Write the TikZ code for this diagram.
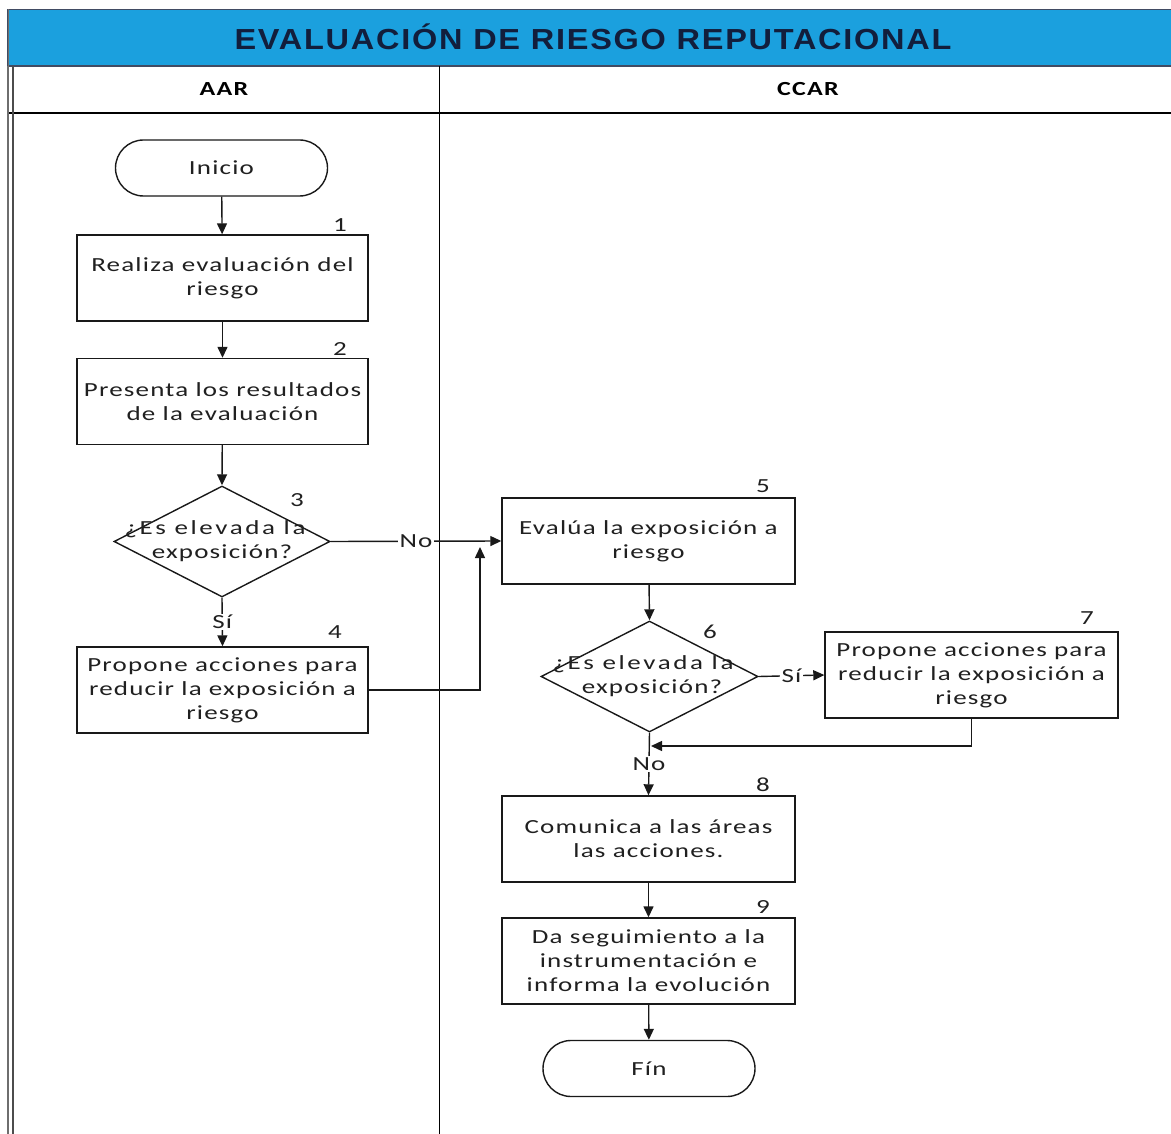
\documentclass[tikz,border=0pt]{standalone}
\usepackage{fontspec}
\setmainfont{Carlito}[FakeStretch=1.35,LetterSpace=6]
\newfontfamily\dfont{Carlito}[FakeStretch=1.35,LetterSpace=13]
\newfontfamily\titlefont{Liberation Sans}[FakeStretch=1.12,LetterSpace=6]
\newfontfamily\lanefont{Carlito}[FakeStretch=1.3,LetterSpace=6]
\usetikzlibrary{shapes.geometric,arrows.meta}
\definecolor{headblue}{RGB}{27,160,222}
\definecolor{titlec}{RGB}{18,30,60}
\definecolor{txt}{RGB}{32,32,32}
\definecolor{linec}{RGB}{25,25,25}
\definecolor{edgec}{RGB}{110,110,110}
\begin{document}
\begin{tikzpicture}[x=1pt,y=-1pt,
  proc/.style={draw=linec, line width=1.4pt, fill=white, minimum width=291pt,
    minimum height=86pt, inner sep=0pt, align=center,
    font=\fontsize{20}{24}\selectfont, text=txt},
  dec/.style={diamond, draw=linec, line width=1.4pt, fill=white,
    minimum width=216pt, minimum height=111pt, inner sep=0pt},
  dtext/.style={align=center, inner sep=0pt, font=\fontsize{20}{24}\selectfont, text=txt},
  term/.style={draw=linec, line width=1.4pt, fill=white, rounded corners=28pt,
    minimum width=212pt, minimum height=56pt, inner sep=0pt,
    font=\fontsize{20}{24}\selectfont, text=txt},
  num/.style={inner sep=0pt, font=\fontsize{20}{22}\selectfont, text=txt},
  lbl/.style={fill=white, inner sep=1.5pt, font=\fontsize{20}{22}\selectfont, text=txt},
  flow/.style={draw=linec, line width=1.4pt, -{Triangle[length=11pt,width=10pt]}},
  lane/.style={draw=black, line width=1.5pt},
  lanetxt/.style={inner sep=0pt, font=\lanefont\bfseries\fontsize{20}{22}\selectfont, text=black}
]
\useasboundingbox (0,0) rectangle (1171,1134);

% header band and lane frame
\fill[headblue] (7,9.5) rectangle (1171,66);
\draw[line width=1.5pt, draw=titlec!80] (7,9.5) -- (1171,9.5);
\draw[line width=1.5pt, draw=titlec!80] (7,66) -- (1171,66);
\draw[lane] (7,113) -- (1171,113);
\draw[lane] (439.5,66) -- (439.5,1134);
\draw[draw=edgec, line width=2pt] (7.5,9.5) -- (7.5,1134);
\draw[draw=black!70, line width=2pt] (13,66) -- (13,1134);
\draw[draw=titlec!80, line width=1.5pt] (7.5,9.5) -- (7.5,66);

\node[inner sep=0pt, text=titlec, font=\titlefont\bfseries\fontsize{29}{32}\selectfont] (title) at (593,37) {EVALUACIÓN DE RIESGO REPUTACIONAL};
\node[lanetxt] (laneA) at (224,89) {AAR};
\node[lanetxt] (laneB) at (808,89) {CCAR};

% left lane
\node[term] (ini) at (221.5,168) {Inicio};
\node[proc] (b1) at (222.5,278) {Realiza evaluación del\\riesgo};
\node[num] (n1) at (340,225) {1};
\node[proc] (b2) at (222.5,401.5) {Presenta los resultados\\de la evaluación};
\node[num] (n2) at (340,349) {2};
\node[dec] (d3) at (222,541.5) {};
\node[dtext] (t3) at (215,541) {{\dfont ¿Es elevada la}\\\hspace*{14pt}exposición?};
\node[num] (n3) at (297,500) {3};
\node[proc] (b4) at (222.5,690) {Propone acciones para\\reducir la exposición a\\riesgo};
\node[num] (n4) at (335,632) {4};

% right lane
\node[proc, minimum width=293pt] (b5) at (648.5,541) {Evalúa la exposición a\\riesgo};
\node[num] (n5) at (763,486) {5};
\node[dec, minimum width=217pt] (d6) at (649.5,676.5) {};
\node[dtext] (t6) at (643,676) {{\dfont ¿Es elevada la}\\\hspace*{18pt}exposición?};
\node[num] (n6) at (710,632) {6};
\node[proc, minimum width=293pt] (b7) at (971.5,675) {Propone acciones para\\reducir la exposición a\\riesgo};
\node[num] (n7) at (1087,618) {7};
\node[proc, minimum width=293pt] (b8) at (648.5,839) {Comunica a las áreas\\las acciones.};
\node[num] (n8) at (763,785) {8};
\node[proc, minimum width=293pt] (b9) at (648.5,961) {Da seguimiento a la\\instrumentación e\\informa la evolución};
\node[num] (n9) at (763,907) {9};
\node[term] (fin) at (649,1068.5) {Fín};

\coordinate (j5) at (480,547);
\coordinate (j6) at (651,746);

% connectors
\draw[flow] (ini) -- (b1);
\draw[flow] (b1) -- (b2);
\draw[flow] (b2) -- (d3.north);
\draw[flow] (d3.south) -- node[lbl] {Sí} (b4.north);
\draw[flow] (d3.east) -- node[lbl] {No} (b5.west);
\draw[flow] (b4.east) -| (j5);
\draw[flow] (b5) -- (d6.north);
\draw[flow] (d6.east) -- node[lbl] {Sí} (b7.west);
\draw[flow] (b7.south) |- (j6);
\draw[flow] (d6.south) -- node[lbl] {No} (b8.north);
\draw[flow] (b8) -- (b9);
\draw[flow] (b9) -- (fin);
\end{tikzpicture}
\end{document}
